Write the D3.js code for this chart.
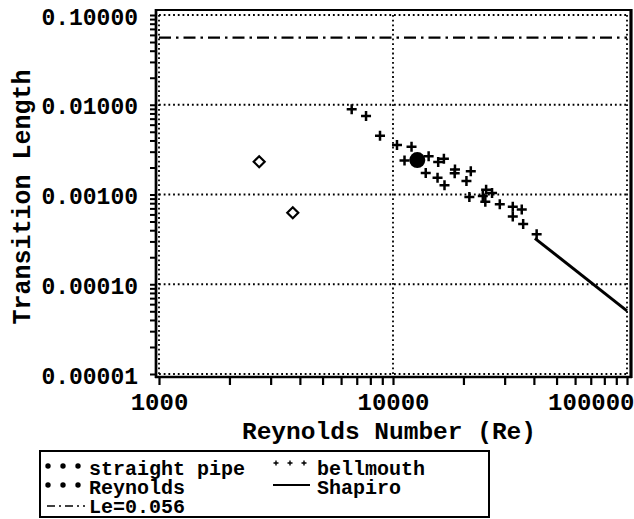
<!DOCTYPE html>
<html><head><meta charset="utf-8">
<script src="https://cdn.jsdelivr.net/npm/d3@7"></script>
<style>
body{margin:0;background:#fff}
svg{display:block}
text{font-family:'Liberation Mono','Courier New',monospace;font-weight:bold;fill:#000}
</style>
</head><body>
<svg id="c" width="634" height="519"></svg>
<script>
// ---- data ----
const straightRe = [2680, 3730];
const straightL  = [0.00232, 0.000627];
const reynoldsRe = [12700];
const reynoldsL  = [0.00242];
const bellRe = [6660, 7670, 8800, 10400, 12000, 11200, 14200, 13800, 15600, 16500, 15500, 16600, 18400, 18350, 21500, 20600, 21200, 24200, 25000, 26500, 24800, 28600, 32500, 35500, 32500, 36000, 41100];
const bellL  = [0.0089, 0.0075, 0.0045, 0.00356, 0.00341, 0.0024, 0.00266, 0.00174, 0.0023, 0.0025, 0.00154, 0.00127, 0.0019, 0.00172, 0.00182, 0.00141, 0.00094, 0.00096, 0.00113, 0.00104, 0.00083, 0.00078, 0.00073, 0.00068, 0.00057, 0.00047, 0.00036];
const shapiroRe = [40400, 100000];
const shapiroL  = [0.000325, 0.0000505];
const leValue = 0.056;
const xTickLabels = ["1000", "10000", "100000"];
const yTickLabels = ["0.00001", "0.00010", "0.00100", "0.01000", "0.10000"];
const legendLabels = ["straight pipe", "bellmouth", "Reynolds", "Shapiro", "Le=0.056"];
const xTitle = "Reynolds Number (Re)";
const yTitle = "Transition Length";

// ---- scales ----
const svg = d3.select("#c");
const x = d3.scaleLog().domain([1000, 100000]).range([159, 627]);
const y = d3.scaleLog().domain([0.00001, 0.1]).range([374, 15]);

const isMajor = d => Math.abs(Math.log10(d) - Math.round(Math.log10(d))) < 1e-6;

const xTicks = [];
[1000, 10000].forEach(dec => { for (let k = 1; k <= 9; k++) xTicks.push(k * dec); });
xTicks.push(100000);
const yTicks = [];
[1e-5, 1e-4, 1e-3, 1e-2].forEach(dec => { for (let k = 1; k <= 9; k++) yTicks.push(k * dec); });
yTicks.push(0.1);

// ---- grid (dotted) ----
const grid = svg.append("g").attr("stroke", "#000").attr("stroke-width", 1.8).attr("stroke-dasharray", "1.8,2.9");
yTicks.filter(isMajor).forEach(v => {
  grid.append("line").attr("x1", x(1000)).attr("x2", x(100000)).attr("y1", y(v)).attr("y2", y(v));
});
xTicks.filter(isMajor).forEach(v => {
  grid.append("line").attr("x1", x(v)).attr("x2", x(v)).attr("y1", y(0.1)).attr("y2", y(0.00001));
});

// ---- frame ----
const frame = svg.append("g").attr("stroke", "#000");
frame.append("line").attr("x1", 156).attr("x2", 156).attr("y1", 9).attr("y2", 378).attr("stroke-width", 2.7);
frame.append("line").attr("x1", 155).attr("x2", 632).attr("y1", 377).attr("y2", 377).attr("stroke-width", 2.7);
frame.append("line").attr("x1", 155).attr("x2", 632).attr("y1", 10).attr("y2", 10).attr("stroke-width", 2);
frame.append("line").attr("x1", 631).attr("x2", 631).attr("y1", 9).attr("y2", 378).attr("stroke-width", 3.2);

// ---- axes ----
const xAxis = svg.append("g").attr("transform", "translate(0,377)")
  .call(d3.axisBottom(x).tickValues(xTicks).tickSize(8)
    .tickFormat(d => isMajor(d) ? xTickLabels[Math.round(Math.log10(d)) - 3] : ""));
xAxis.select(".domain").remove();
xAxis.selectAll(".tick line").attr("stroke-width", 2.2).attr("stroke", "#000");
xAxis.selectAll(".tick text").attr("y", 33).attr("dy", 0)
  .style("font-size", "24px").style("font-family", "'Liberation Mono',monospace").style("font-weight", "bold");
xAxis.selectAll(".tick text").filter(d => d === 100000).attr("text-anchor", "end").attr("x", 7);

const yAxis = svg.append("g").attr("transform", "translate(156,0)")
  .call(d3.axisLeft(y).tickValues(yTicks).tickSize(6).tickPadding(12)
    .tickFormat(d => isMajor(d) ? yTickLabels[Math.round(Math.log10(d)) + 5] : ""));
yAxis.select(".domain").remove();
yAxis.selectAll(".tick line").attr("stroke-width", 2).attr("stroke", "#000");
yAxis.selectAll(".tick text").attr("dy", 9)
  .style("font-size", "23px").style("font-family", "'Liberation Mono',monospace").style("font-weight", "bold");

// ---- titles ----
svg.append("text").attr("x", 389).attr("y", 439).attr("text-anchor", "middle")
  .style("font-size", "24.5px").text(xTitle);
svg.append("text").attr("transform", "translate(30,197) rotate(-90)").attr("text-anchor", "middle")
  .style("font-size", "25px").text(yTitle);

// ---- Le line ----
svg.append("line").attr("x1", x(1000)).attr("x2", x(100000)).attr("y1", y(leValue)).attr("y2", y(leValue))
  .attr("stroke", "#000").attr("stroke-width", 2.4).attr("stroke-dasharray", "12,5,2.5,5");

// ---- Shapiro ----
svg.append("path").datum(shapiroRe.map((r, i) => [r, shapiroL[i]]))
  .attr("fill", "none").attr("stroke", "#000").attr("stroke-width", 3)
  .attr("d", d3.line().x(d => x(d[0])).y(d => y(d[1])));

// ---- bellmouth ----
svg.append("g").selectAll("path").data(bellRe.map((r, i) => [r, bellL[i]])).join("path")
  .attr("transform", d => `translate(${x(d[0])},${y(d[1])})`)
  .attr("d", "M-5,0H5M0,-5V5").attr("stroke", "#000").attr("stroke-width", 2.5).attr("fill", "none");

// ---- straight pipe ----
svg.append("g").selectAll("path").data(straightRe.map((r, i) => [r, straightL[i]])).join("path")
  .attr("transform", d => `translate(${x(d[0])},${y(d[1])})`)
  .attr("d", "M0,-5.5L5.5,0L0,5.5L-5.5,0Z").attr("stroke", "#000").attr("stroke-width", 2.2).attr("fill", "#fff");

// ---- Reynolds ----
svg.append("g").selectAll("circle").data(reynoldsRe.map((r, i) => [r, reynoldsL[i]])).join("circle")
  .attr("cx", d => x(d[0])).attr("cy", d => y(d[1])).attr("r", 8).attr("fill", "#000");

// ---- legend ----
const lg = svg.append("g");
lg.append("rect").attr("x", 40).attr("y", 451).attr("width", 449).attr("height", 66)
  .attr("fill", "none").attr("stroke", "#000").attr("stroke-width", 2);
const lfs = "20px";
const dots = (cy) => [48, 63, 78].forEach(cx => lg.append("circle").attr("cx", cx).attr("cy", cy).attr("r", 2.7).attr("fill", "#000"));
dots(466); dots(485);
[276, 290, 304].forEach(cx => lg.append("path").attr("transform", `translate(${cx},463)`)
  .attr("d", "M-2.5,0H2.5M0,-2.5V2.5").attr("stroke", "#000").attr("stroke-width", 1.4));
lg.append("line").attr("x1", 273).attr("x2", 310).attr("y1", 485).attr("y2", 485).attr("stroke", "#000").attr("stroke-width", 2);
lg.append("line").attr("x1", 47).attr("x2", 85).attr("y1", 506).attr("y2", 506).attr("stroke", "#000").attr("stroke-width", 1.4)
  .attr("stroke-dasharray", "8,4,2,4");
lg.append("text").attr("x", 89).attr("y", 475).style("font-size", lfs).text(legendLabels[0]);
lg.append("text").attr("x", 317).attr("y", 475).style("font-size", lfs).text(legendLabels[1]);
lg.append("text").attr("x", 89).attr("y", 494).style("font-size", lfs).text(legendLabels[2]);
lg.append("text").attr("x", 317).attr("y", 494).style("font-size", lfs).text(legendLabels[3]);
lg.append("text").attr("x", 89).attr("y", 513).style("font-size", lfs).text(legendLabels[4]);
</script>
</body></html>
